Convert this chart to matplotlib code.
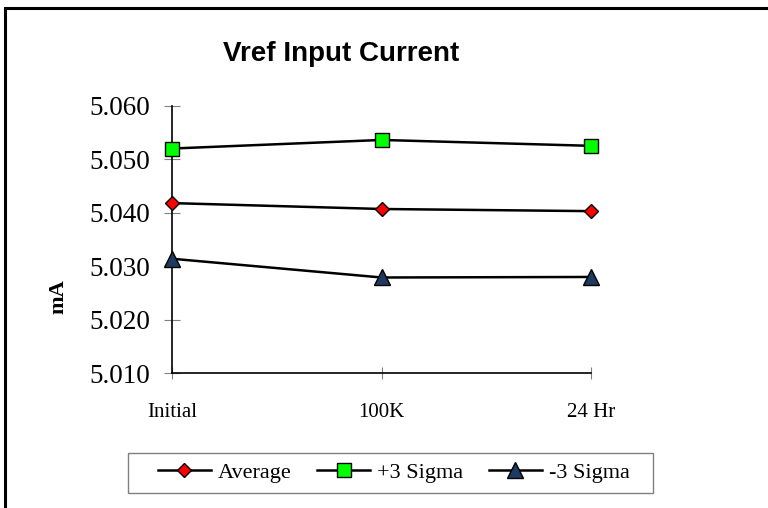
import matplotlib.pyplot as plt
from matplotlib.patches import Rectangle

# data
stages = ['Initial', '100K', '24 Hr']
average = [5.0418, 5.0407, 5.0403]
plus3 = [5.0520, 5.0536, 5.0525]
minus3 = [5.0314, 5.0279, 5.0280]
yticks = [5.010, 5.020, 5.030, 5.040, 5.050, 5.060]

W, H = 768, 508
fig = plt.figure(figsize=(W / 100, H / 100), dpi=100)
ax = fig.add_axes([172.3 / W, 1 - 373.3 / H, (591 - 172.3) / W, (373.3 - 105.7) / H])

x = range(len(stages))
ax.plot(x, average, color='black', lw=1.8, marker='D', ms=7, mfc='#FF0000',
        mec='black', mew=1, label='Average', clip_on=False, zorder=3)
ax.plot(x, plus3, color='black', lw=1.8, marker='s', ms=10, mfc='#00FF00',
        mec='black', mew=1, label='+3 Sigma', clip_on=False, zorder=3)
ax.plot(x, minus3, color='black', lw=1.8, marker='^', ms=11, mfc='#1F3A60',
        mec='black', mew=1, label='-3 Sigma', clip_on=False, zorder=3)

ax.set_xlim(0, 2)
ax.set_ylim(5.010, 5.060)
ax.set_xticks(list(x))
ax.set_xticklabels(stages, family='Liberation Serif', fontsize=15)
ax.set_yticks(yticks)
ax.set_yticklabels(['%.3f' % v for v in yticks], family='Liberation Serif', fontsize=19.5)

for s in ['top', 'right']:
    ax.spines[s].set_visible(False)
ax.spines['left'].set_linewidth(1.2)
ax.spines['bottom'].set_linewidth(1.2)
ax.tick_params(axis='y', direction='inout', length=12, color='#808080', pad=10)
ax.tick_params(axis='x', direction='inout', length=9, color='#808080', pad=17)

fig.text(341 / W, 1 - 54 / H, 'Vref Input Current', family='Liberation Sans',
         fontsize=20, fontweight='bold', ha='center', va='center')
fig.text(58 / W, 1 - 297 / H, 'mA', family='Liberation Serif', fontsize=16,
         fontweight='bold', rotation=90, ha='center', va='center')

# legend without its own frame; the box is drawn separately
leg = fig.legend(loc='center', bbox_to_anchor=(393.5 / W, 1 - 472.5 / H), ncol=3,
                 frameon=False, prop={'family': 'Liberation Serif', 'size': 16},
                 handlelength=2.4, handletextpad=0.3, columnspacing=1.15,
                 borderpad=0, borderaxespad=0)
fig.patches.append(Rectangle((127.5 / W, 1 - 493 / H), 525 / W, 40.5 / H,
                             transform=fig.transFigure, fill=False, lw=1,
                             ec='#808080'))

# outer chart border (right and bottom edges fall outside the picture)
fig.patches.append(Rectangle((4.5 / W, -0.1), 2, 1 - 8.5 / H + 0.1,
                             transform=fig.transFigure, fill=False, lw=2.2,
                             ec='black', clip_on=False))

plt.savefig('out.png', dpi=100)
